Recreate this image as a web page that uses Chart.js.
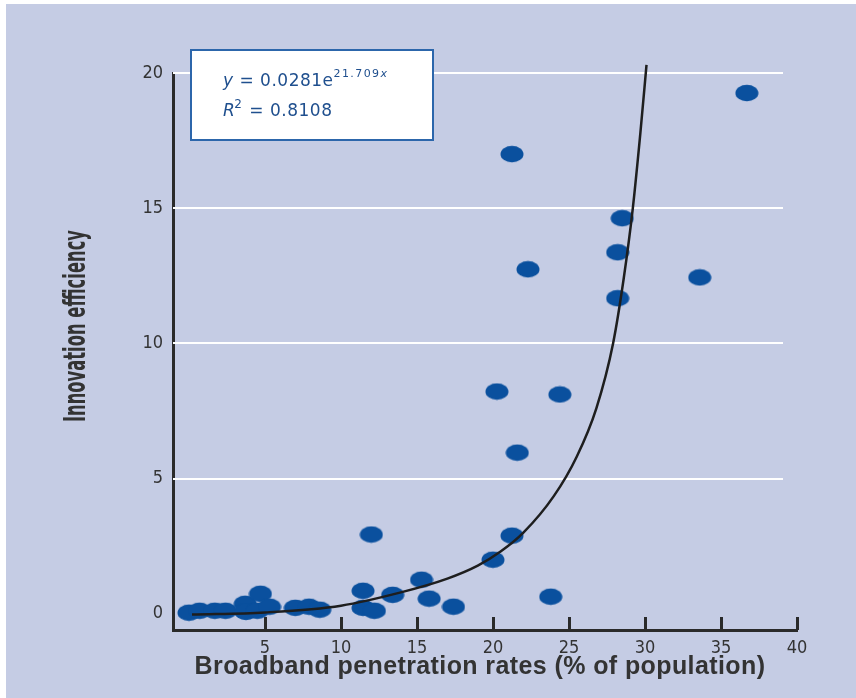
<!DOCTYPE html>
<html>
<head>
<meta charset="utf-8">
<script src="https://cdn.jsdelivr.net/npm/chart.js@4.4.1/dist/chart.umd.min.js"></script>
<style>
  html, body { margin: 0; padding: 0; background: #fff; }
  #wrap { position: relative; width: 856px; height: 698px; }
</style>
</head>
<body>
<div id="wrap"><canvas id="chart" width="856" height="698"></canvas></div>
<script>

/*
** Data
*/
var POINT_X = [0.0, 0.7, 1.7, 2.4, 3.7, 3.75, 4.7, 4.5, 5.3, 7.0, 7.9, 8.6,
               11.45, 11.45, 12.0, 12.2, 13.4, 15.3, 15.8, 17.4, 20.0, 20.26,
               21.25, 21.25, 21.6, 22.3, 23.8, 24.4, 28.2, 28.2, 28.5, 33.6, 36.7];
var POINT_Y = [0.04, 0.11, 0.11, 0.11, 0.37, 0.07, 0.74, 0.11, 0.26, 0.22, 0.26, 0.15,
               0.85, 0.22, 2.93, 0.11, 0.70, 1.26, 0.56, 0.26, 2.0, 8.22,
               17.0, 2.89, 5.96, 12.74, 0.63, 8.11, 13.37, 11.67, 14.63, 12.44, 19.26];

// trend curve
var CURVE_X = [0.2, 5, 10, 14, 17, 19, 20.5, 22, 24, 25.5, 26.8, 27.9, 28.6, 29.2, 29.7, 30.1];
var CURVE_Y = [-0.03, 0.05, 0.3, 0.8, 1.3, 1.78, 2.3, 3.0, 4.35, 5.8, 7.6, 10.0, 12.4, 15.0, 17.8, 20.3];

var X_TICKS = [5, 10, 15, 20, 25, 30, 35, 40];
var Y_TICKS = [0, 5, 10, 15, 20];

var X_TITLE = "Broadband penetration rates (% of population)";
var Y_TITLE = "Innovation efficiency";
var FIT_COEF = "0.0281";
var FIT_EXP = "21.709";
var FIT_R2 = "0.8108";

var BG = "#c5cce4";
var DOT = "#0a509e";
var INK = "#2a2a2a";
var BOX_TEXT = "#1f4f8e";
var NARROW = "'DejaVu Sans Condensed', 'Liberation Sans Narrow', sans-serif";
var EQ_FONT = "'DejaVu Sans', sans-serif";

/*
** Ellipse used as point style
*/
function makeDot() {
    var c = document.createElement("canvas");
    c.width = 24; c.height = 18;
    var g = c.getContext("2d");
    g.fillStyle = DOT;
    g.beginPath();
    g.ellipse(12, 9, 11.5, 8.3, 0, 0, Math.PI * 2);
    g.fill();
    return c;
}

function pairs(xs, ys) {
    return xs.map(function (x, i) { return { x: x, y: ys[i] }; });
}

/*
** Background, grid, inward x ticks, titles and equation box
*/
var decor = {
    id: "decor",
    beforeDraw: function (chart) {
        var ctx = chart.ctx;
        ctx.save();
        ctx.fillStyle = "#fff";
        ctx.fillRect(0, 0, chart.width, chart.height);
        ctx.fillStyle = BG;
        ctx.fillRect(6, 4, chart.width - 6, chart.height - 4);
        ctx.restore();
    },
    beforeDatasetsDraw: function (chart) {
        var ctx = chart.ctx, xs = chart.scales.x, ys = chart.scales.y, a = chart.chartArea;
        ctx.save();
        // white grid lines, stopping short of the right end
        ctx.strokeStyle = "#ffffff";
        ctx.lineWidth = 2;
        Y_TICKS.forEach(function (v) {
            if (v === 0) return;
            var py = Math.round(ys.getPixelForValue(v));
            ctx.beginPath();
            ctx.moveTo(a.left, py);
            ctx.lineTo(a.right - 14, py);
            ctx.stroke();
        });
        ctx.strokeStyle = INK;
        ctx.lineWidth = 3;
        X_TICKS.forEach(function (v) {
            var px = Math.round(xs.getPixelForValue(v)) + 0.5;
            ctx.beginPath();
            ctx.moveTo(px, a.bottom);
            ctx.lineTo(px, a.bottom - 13);
            ctx.stroke();
        });
        ctx.restore();
    },
    afterDraw: function (chart) {
        var ctx = chart.ctx;
        ctx.save();

        // x title
        ctx.fillStyle = "#333";
        ctx.font = "bold 25px 'Liberation Sans', Arial, sans-serif";
        ctx.letterSpacing = "0.4px";
        ctx.textAlign = "center";
        ctx.textBaseline = "middle";
        ctx.fillText(X_TITLE, 480, 667);

        // y title, tall and condensed
        ctx.letterSpacing = "0px";
        ctx.font = "bold 30px " + NARROW;
        var w = ctx.measureText(Y_TITLE).width;
        ctx.save();
        ctx.translate(77, 326);
        ctx.rotate(-Math.PI / 2);
        ctx.scale(192 / w, 1);
        ctx.fillText(Y_TITLE, 0, 0);
        ctx.restore();

        // equation box
        ctx.fillStyle = "#fff";
        ctx.fillRect(190, 49, 244, 92);
        ctx.strokeStyle = "#2c66ab";
        ctx.lineWidth = 2;
        ctx.strokeRect(191, 50, 242, 90);

        ctx.fillStyle = BOX_TEXT;
        ctx.textAlign = "left";
        ctx.textBaseline = "alphabetic";
        var x = 223, y1 = 86, y2 = 116;

        ctx.letterSpacing = "0.5px";
        ctx.font = "italic 17px " + EQ_FONT;
        ctx.fillText("y", x, y1);
        var xx = x + ctx.measureText("y").width;
        ctx.font = "17px " + EQ_FONT;
        var t1 = " = " + FIT_COEF + "e";
        ctx.fillText(t1, xx, y1);
        xx += ctx.measureText(t1).width;
        ctx.letterSpacing = "1.4px";
        ctx.font = "11px " + EQ_FONT;
        ctx.fillText(FIT_EXP, xx, y1 - 9);
        xx += ctx.measureText(FIT_EXP).width;
        ctx.font = "italic 11px " + EQ_FONT;
        ctx.fillText("x", xx, y1 - 9);

        ctx.letterSpacing = "0.5px";
        ctx.font = "italic 17px " + EQ_FONT;
        ctx.fillText("R", x, y2);
        xx = x + ctx.measureText("R").width;
        ctx.font = "12px " + EQ_FONT;
        ctx.fillText("2", xx - 1, y2 - 8);
        xx += ctx.measureText("2").width;
        ctx.font = "17px " + EQ_FONT;
        ctx.fillText(" = " + FIT_R2, xx, y2);

        ctx.restore();
    }
};

new Chart(document.getElementById("chart"), {
    type: "scatter",
    data: {
        datasets: [
            {
                type: "line",
                data: pairs(CURVE_X, CURVE_Y),
                borderColor: "#1e1e1e",
                borderWidth: 2.5,
                pointRadius: 0,
                cubicInterpolationMode: "monotone",
                fill: false,
                clip: false,
                order: 0
            },
            {
                data: pairs(POINT_X, POINT_Y),
                pointStyle: makeDot(),
                pointRadius: 10,
                order: 1
            }
        ]
    },
    options: {
        responsive: false,
        animation: false,
        events: [],
        layout: { padding: { left: 0, right: 59, top: 73, bottom: 0 } },
        plugins: { legend: { display: false }, tooltip: { enabled: false } },
        scales: {
            x: {
                type: "linear",
                min: -1.05,
                max: 40,
                afterFit: function (s) { s.height = 68; },
                afterBuildTicks: function (s) {
                    s.ticks = X_TICKS.map(function (v) { return { value: v }; });
                },
                grid: { drawOnChartArea: false, drawTicks: false },
                border: { display: true, color: INK, width: 3 },
                ticks: {
                    padding: 8,
                    color: "#333",
                    maxRotation: 0,
                    autoSkip: false,
                    font: { family: NARROW, size: 18 }
                }
            },
            y: {
                type: "linear",
                min: -0.6,
                max: 20,
                afterFit: function (s) { s.width = 173; },
                afterBuildTicks: function (s) {
                    s.ticks = Y_TICKS.map(function (v) { return { value: v }; });
                },
                grid: { drawOnChartArea: false, drawTicks: false },
                border: { display: true, color: INK, width: 3 },
                ticks: {
                    padding: 10,
                    color: "#333",
                    font: { family: NARROW, size: 18 }
                }
            }
        }
    },
    plugins: [decor]
});
</script>
</body>
</html>
